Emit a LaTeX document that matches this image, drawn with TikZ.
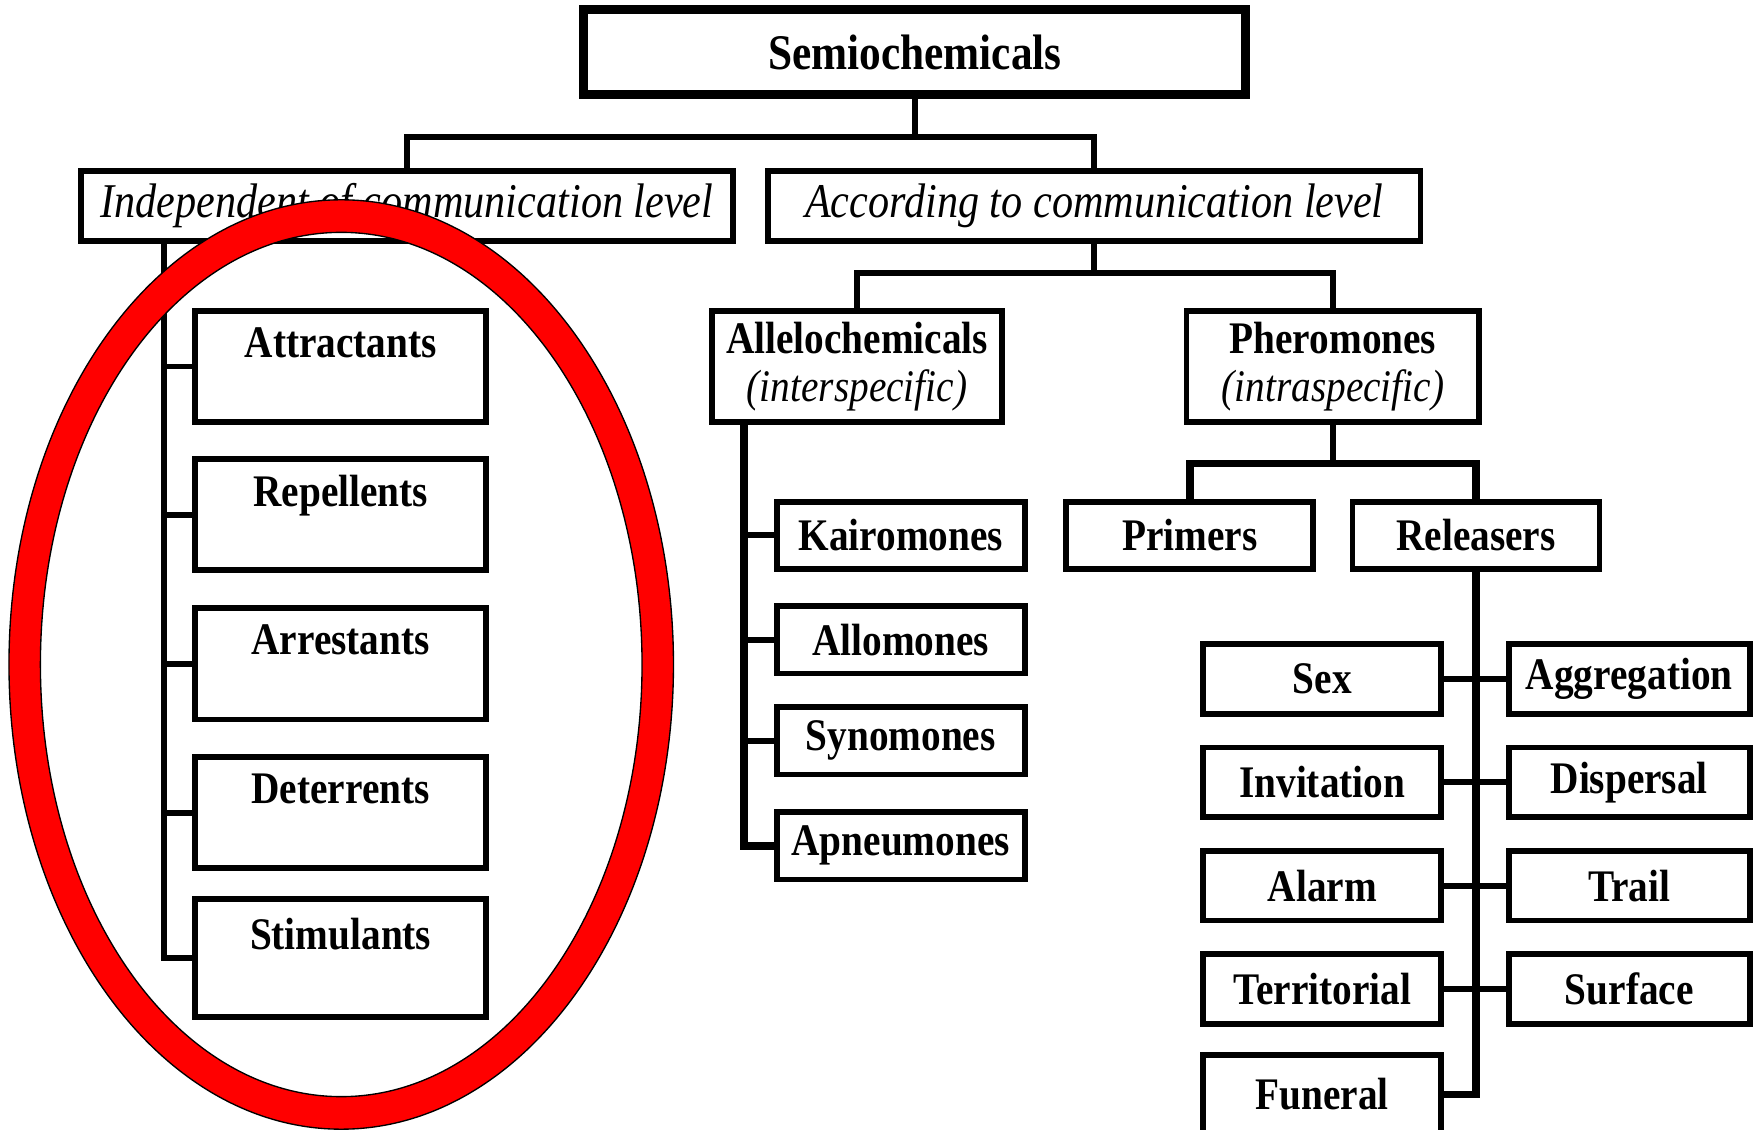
\documentclass[tikz,border=0pt]{standalone}
\usepackage{fontspec}
\setmainfont{Liberation Serif}
\usepackage{graphicx}
\newcommand\st[1]{\scalebox{1}[1.15]{#1}}
\begin{document}
\begin{tikzpicture}[x=0.5pt,y=-0.5pt,
  bx/.style={draw, line width=2.6pt, rectangle, inner sep=0pt, align=center,
    font=\fontsize{17.5pt}{21.5pt}\selectfont\bfseries},
  hd/.style={bx, minimum width=290.5pt, minimum height=31.5pt,
    font=\fontsize{18.8pt}{22pt}\selectfont\itshape},
  lbox/.style={bx, minimum width=129.5pt, minimum height=49.5pt},
  mbox/.style={bx, minimum width=110.5pt, minimum height=30pt},
  rlbox/.style={bx, minimum width=106pt, minimum height=31pt},
  rrbox/.style={bx, minimum width=107.5pt, minimum height=31pt},
  conn/.style={line width=2.6pt}]
\useasboundingbox (0,0) rectangle (1568,1006);

% top
\node[bx, line width=4pt, minimum width=295pt, minimum height=38pt,
  font=\fontsize{19.3pt}{23pt}\selectfont\bfseries] (semi) at (815,46.5) {\st{Semiochemicals}};
\node[hd] (ind) at (362.5,183.5) {\st{Independent of communication level}};
\node[hd] (acc) at (975,183.5) {\st{According to communication level}};

% left column
\node[lbox] (att) at (303.5,326.5) {\st{Attractants}\\\phantom{\st{A}}};
\node[lbox] (rep) at (303.5,458.5) {\st{Repellents}\\\phantom{\st{A}}};
\node[lbox] (arr) at (303.5,591.5) {\st{Arrestants}\\\phantom{\st{A}}};
\node[lbox] (det) at (303.5,724) {\st{Deterrents}\\\phantom{\st{A}}};
\node[lbox, minimum height=52.5pt] (sti) at (303.5,853.5) {\st{Stimulants}\\\phantom{\st{A}}};

% allelochemicals / pheromones
\node[lbox] (all) at (763.5,326.5) {\st{Allelochemicals}\\\st{\normalfont\itshape (interspecific)}};
\node[lbox, minimum width=130.5pt] (phe) at (1187.5,326.5) {\st{Pheromones}\\\st{\normalfont\itshape (intraspecific)}};

\node[mbox] (kai) at (802.5,477) {\st{Kairomones}};
\node[mbox] (alo) at (802.5,570) {\st{Allomones}};
\node[mbox] (syn) at (802.5,660) {\st{Synomones}};
\node[mbox] (apn) at (802.5,753.5) {\st{Apneumones}};

\node[mbox, minimum width=110pt] (pri) at (1060,477) {\st{Primers}};
\node[mbox, minimum width=110pt] (rel) at (1315,477) {\st{Releasers}};

% releaser types
\node[rlbox] (sex) at (1178,605) {\st{Sex}};
\node[rlbox] (inv) at (1178,697) {\st{Invitation}};
\node[rlbox] (ala) at (1178,789) {\st{Alarm}};
\node[rlbox] (ter) at (1178,881) {\st{Territorial}};
\node[rlbox, minimum height=35pt] (fun) at (1178,975) {\st{Funeral}};
\node[rrbox] (agg) at (1451.5,605) {\st{Aggregation}};
\node[rrbox] (dis) at (1451.5,697) {\st{Dispersal}};
\node[rrbox] (tra) at (1451.5,789) {\st{Trail}};
\node[rrbox] (sur) at (1451.5,881) {\st{Surface}};

% connectors
\coordinate (j1) at (815,122);
\draw[conn] (semi.south) -- (j1);
\draw[conn] (ind.north) |- (j1) -| (acc.north);
\coordinate (j2) at (975,243);
\draw[conn] (acc.south) -- (j2);
\draw[conn] (all.north) |- (j2) -| (phe.north);
\coordinate (j3) at (1187.5,413);
\draw[conn] (phe.south) -- (j3);
\draw[conn, line width=3.4pt] (pri.north) |- (j3) -| (rel.north);

\coordinate (lx) at (146,0);
\draw[conn] (ind.south -| lx) |- (sti.west);
\foreach \n in {att,rep,arr,det} \draw[conn] (\n.west) -- (\n.west -| lx);

\coordinate (ax) at (663,0);
\draw[conn, line width=3.4pt] (all.south -| ax) |- (apn.west);
\foreach \n in {kai,alo,syn} \draw[conn] (\n.west) -- (\n.west -| ax);

\draw[conn, line width=3.2pt] (rel.south) |- (fun.east);
\draw[conn] (sex.east) -- (agg.west);
\draw[conn] (inv.east) -- (dis.west);
\draw[conn] (ala.east) -- (tra.west);
\draw[conn] (ter.east) -- (sur.west);

% red ellipse
\path[fill=red, draw=black, line width=0.6pt, even odd rule]
  (304,592) ellipse [x radius=148pt, y radius=207pt]
  (304,592) ellipse [x radius=134pt, y radius=192.5pt];
\end{tikzpicture}
\end{document}
